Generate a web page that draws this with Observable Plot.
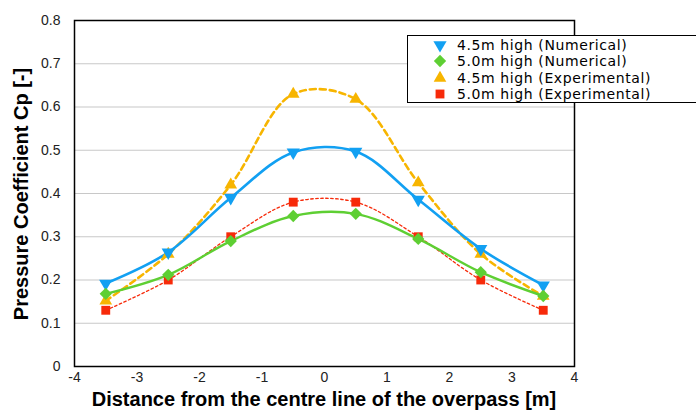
<!DOCTYPE html>
<html><head><meta charset="utf-8">
<script src="https://cdn.jsdelivr.net/npm/d3@7"></script>
<script src="https://cdn.jsdelivr.net/npm/@observablehq/plot@0.6"></script>
<style>
body{margin:0;background:#fff;font-family:"Liberation Sans",Arial,sans-serif;}
#wrap{position:relative;width:696px;height:410px;overflow:hidden;}
#legend{position:absolute;left:407px;top:35px;width:300px;height:68px;border:1.5px solid #000;background:#fff;box-sizing:border-box;padding-top:0.5px;}
.row{display:flex;align-items:center;height:16.5px;line-height:16.5px;font-size:14px;letter-spacing:0.6px;color:#000;font-family:"DejaVu Sans",sans-serif;}
.row svg{margin-left:23px;margin-right:8px;flex:none;}
#xtitle{position:absolute;left:74px;width:500px;top:388px;text-align:center;font-weight:bold;font-size:20px;line-height:22px;color:#000;white-space:nowrap;}
#ytitle{position:absolute;left:21px;top:194px;transform:translate(-50%,-50%) rotate(-90deg);font-weight:bold;font-size:20px;line-height:22px;color:#000;white-space:nowrap;}
</style></head>
<body><div id="wrap"><div id="legend"></div><div id="xtitle"></div><div id="ytitle"></div></div>
<script>
const xs = [-3.5, -2.5, -1.5, -0.5, 0.5, 1.5, 2.5, 3.5];
const num45 = [0.192, 0.264, 0.39, 0.495, 0.497, 0.386, 0.272, 0.188];
const num50 = [0.168, 0.212, 0.29, 0.348, 0.353, 0.295, 0.218, 0.163];
const exp45 = [0.152, 0.26, 0.42, 0.63, 0.618, 0.425, 0.26, 0.163];
const exp50 = [0.13, 0.2, 0.3, 0.38, 0.38, 0.3, 0.2, 0.13];
const seriesNames = ["4.5m high (Numerical)", "5.0m high (Numerical)", "4.5m high (Experimental)", "5.0m high (Experimental)"];
const xTicks = [-4, -3, -2, -1, 0, 1, 2, 3, 4];
const yTicks = [0, 0.1, 0.2, 0.3, 0.4, 0.5, 0.6, 0.7, 0.8];
const xLabel = "Distance from the centre line of the overpass [m]";
const yLabel = "Pressure Coefficient Cp [-]";

const styles = [
  {color:"#12a0f2", symbol:"triangle", rotate:180, r:4.9, sw:2.6, dash:null},
  {color:"#5ecf33", symbol:"square", rotate:45, r:4.9, sw:2.4, dash:null},
  {color:"#f7b500", symbol:"triangle", rotate:0, r:4.7, sw:2.6, dash:"6,4"},
  {color:"#f72a0a", symbol:"square", rotate:0, r:5, sw:1.3, dash:"2.5,2.5"}
];
const allVals = [num45, num50, exp45, exp50];
const data = allVals.map((vals, i) => xs.map((x, j) => ({x, y: vals[j], s: seriesNames[i]})));

const marks = [
  Plot.gridY(yTicks.slice(1), {stroke:"#c8c8c8", strokeOpacity:1, strokeWidth:1.2}),
  Plot.frame({stroke:"#000", strokeWidth:1.5})
];
[2,3,0,1].forEach(i => {
  const st = styles[i];
  marks.push(Plot.line(data[i], {x:"x", y:"y", curve:"catmull-rom", stroke:st.color, strokeWidth:st.sw, strokeDasharray:st.dash}));
});
[2,3,0,1].forEach(i => {
  const st = styles[i];
  marks.push(Plot.dot(data[i], {x:"x", y:"y", symbol:()=>st.symbol, r:st.r, fill:st.color, stroke:"none", rotate:st.rotate}));
});

const chart = Plot.plot({
  width:696, height:410,
  marginLeft:74, marginRight:122, marginTop:20, marginBottom:44,
  style:{fontFamily:"'Liberation Sans',Arial,sans-serif", fontSize:"14px", color:"#222", background:"#fff"},
  symbol:{type:"identity"},
  x:{domain:[-4,4], ticks:xTicks, tickSize:0, tickPadding:6, tickFormat:d=>String(d), label:null},
  y:{domain:[0,0.8], ticks:yTicks, tickSize:0, tickPadding:14, tickFormat:d=>d===0?"0":d3.format(".1f")(d), label:null},
  marks
});
document.getElementById("wrap").prepend(chart);
document.getElementById("xtitle").textContent = xLabel;
document.getElementById("ytitle").textContent = yLabel;

const lg = document.getElementById("legend");
seriesNames.forEach((name, i) => {
  const st = styles[i];
  const row = document.createElement("div");
  row.className = "row";
  const t = st.symbol==="triangle"?d3.symbolTriangle:d3.symbolSquare;
  const sym = d3.symbol(t, st.r*st.r*Math.PI)();
  row.innerHTML = `<svg width="18" height="16" viewBox="-9 -8 18 16"><path d="${sym}" fill="${st.color}" transform="rotate(${st.rotate})"/></svg><span>${name}</span>`;
  lg.appendChild(row);
});
</script></body></html>
